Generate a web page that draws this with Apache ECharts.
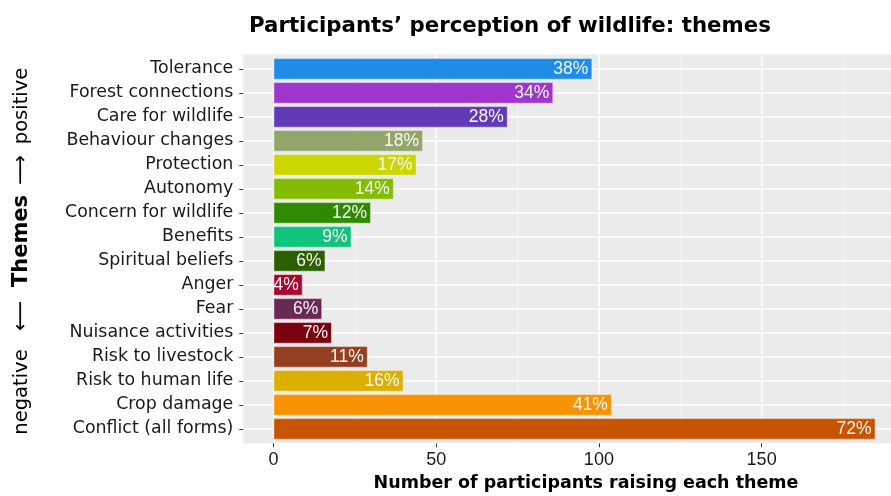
<!DOCTYPE html>
<html>
<head>
<meta charset="utf-8">
<script src="https://cdn.jsdelivr.net/npm/echarts@6/dist/echarts.min.js"></script>
<style>html,body{margin:0;padding:0;background:#fff}#c{width:891px;height:496px}</style>
</head>
<body>
<div id="c"></div>
<script>
const categories = ["Tolerance","Forest connections","Care for wildlife","Behaviour changes","Protection","Autonomy","Concern for wildlife","Benefits","Spiritual beliefs","Anger","Fear","Nuisance activities","Risk to livestock","Risk to human life","Crop damage","Conflict (all forms)"];
const counts = [98,86,72,46,44,37,30,24,16,9,15,18,29,40,104,185];
const percents = ["38%","34%","28%","18%","17%","14%","12%","9%","6%","4%","6%","7%","11%","16%","41%","72%"];
const colors = ["#1F8CE8","#9E35CC","#6239B8","#93A56A","#CCD600","#84BC02","#2F8A00","#10C47C","#2D5E00","#AA0330","#692954","#7A0010","#944020","#DCB000","#F99200","#C85400"];
const majorTicks = [0,50,100,150];
const minorTicks = [25,75,125,175];
const rowPositions = categories.map((c,i)=>i);

const XMIN = -9.25, XMAX = 189.75;

const chart = echarts.init(document.getElementById('c'));
chart.setOption({
  animation: false,
  grid: [
    {left: 243.3, right: 0, top: 54.5, height: 388.8, show: true, backgroundColor: '#EBEBEB', borderWidth: 0},
    {left: 243.3, right: 0, top: 56.9, height: 384}
  ],
  xAxis: [
    {gridIndex: 0, type: 'value', min: XMIN, max: XMAX, position: 'bottom',
     axisLine: {show: false, onZero: false},
     axisTick: {show: true, customValues: majorTicks, length: 4, lineStyle: {color: '#333', width: 1}},
     axisLabel: {customValues: majorTicks, fontSize: 18, color: '#1a1a1a', margin: 8, fontFamily: 'Liberation Sans'},
     splitLine: {show: true, lineStyle: {color: '#FFFFFF', width: 1.6}}},
    {gridIndex: 0, type: 'value', min: XMIN, max: XMAX, position: 'bottom',
     axisLine: {show: false, onZero: false},
     axisTick: {show: false, customValues: minorTicks},
     axisLabel: {show: false},
     splitLine: {show: true, lineStyle: {color: '#F7F7F7', width: 0.8}}},
    {gridIndex: 1, type: 'value', min: XMIN, max: XMAX, show: false, axisLine: {onZero: false}}
  ],
  yAxis: [
    {gridIndex: 0, type: 'value', min: -0.6, max: 15.6, inverse: true,
     axisLine: {show: false, onZero: false},
     axisTick: {show: false, customValues: rowPositions},
     axisLabel: {show: false},
     splitLine: {show: true, lineStyle: {color: '#FFFFFF', width: 1.6}}},
    {gridIndex: 1, type: 'category', data: categories, inverse: true, position: 'left',
     axisLine: {show: false, onZero: false},
     axisTick: {show: true, alignWithLabel: true, length: 4, lineStyle: {color: '#333', width: 1}},
     axisLabel: {fontSize: 17.4, color: '#1a1a1a', margin: 10, fontFamily: 'DejaVu Sans'},
     splitLine: {show: false}}
  ],
  series: [{
    type: 'bar', xAxisIndex: 2, yAxisIndex: 1,
    barWidth: '90%',
    data: counts.map((v,i)=>({value: v, itemStyle: {color: colors[i]}})),
    itemStyle: {borderColor: 'rgba(255,255,255,0.45)', borderWidth: 1},
    label: {show: true, position: 'insideRight', distance: 4,
      formatter: p => percents[p.dataIndex],
      color: '#F8F8F8', fontSize: 17.5, fontFamily: 'Liberation Sans'}
  }],
  graphic: [
    {type: 'text', x: 249, y: 26,
     style: {text: 'Participants’ perception of wildlife: themes', font: 'bold 21.3px "DejaVu Sans"', fill: '#000', verticalAlign: 'middle'}},
    {type: 'text', x: 586, y: 483,
     style: {text: 'Number of participants raising each theme', font: 'bold 17.5px "DejaVu Sans"', fill: '#000', align: 'center', verticalAlign: 'middle'}},
    {type: 'text', x: 22, y: 392, rotation: Math.PI/2,
     style: {text: 'negative', font: '19.5px "DejaVu Sans"', fill: '#000', align: 'center', verticalAlign: 'middle'}},
    {type: 'text', x: 22, y: 316, rotation: Math.PI/2,
     style: {text: '⟵', font: '21px "DejaVu Sans"', fill: '#000', align: 'center', verticalAlign: 'middle'}},
    {type: 'text', x: 22, y: 241, rotation: Math.PI/2,
     style: {text: 'Themes', font: 'bold 21px "DejaVu Sans"', fill: '#000', align: 'center', verticalAlign: 'middle'}},
    {type: 'text', x: 22, y: 170, rotation: Math.PI/2,
     style: {text: '⟶', font: '21px "DejaVu Sans"', fill: '#000', align: 'center', verticalAlign: 'middle'}},
    {type: 'text', x: 22, y: 106, rotation: Math.PI/2,
     style: {text: 'positive', font: '19.5px "DejaVu Sans"', fill: '#000', align: 'center', verticalAlign: 'middle'}}
  ]
});
</script>
</body>
</html>
